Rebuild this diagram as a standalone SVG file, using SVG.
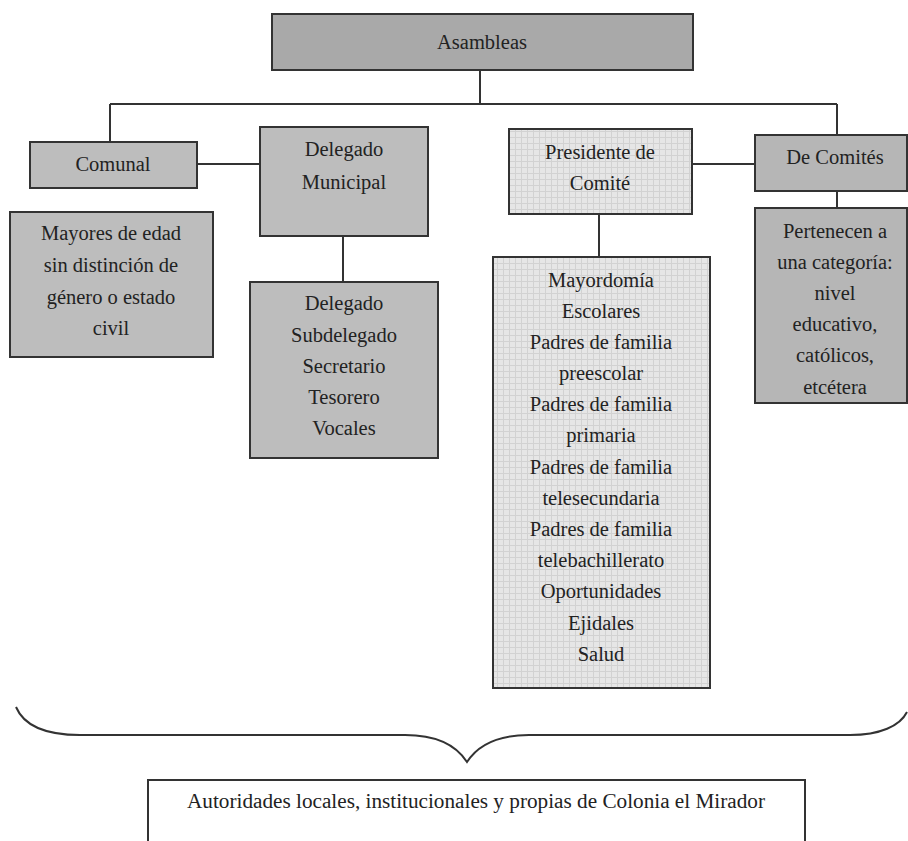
<svg xmlns="http://www.w3.org/2000/svg" width="908" height="841" viewBox="0 0 908 841">
<style>
.box{stroke:#333;stroke-width:2}
.dark{fill:#a9a9a9}
.mid{fill:#bdbdbd}
.mid2{fill:#b6b6b6}
.light{fill:url(#grid)}
.plain{fill:#fff}
.t{font-family:'Liberation Serif',serif;font-size:20.5px;fill:#222;text-anchor:middle}
.conn{stroke:#333;stroke-width:2;fill:none}
</style>
<defs>
<pattern id="grid" width="6" height="6" patternUnits="userSpaceOnUse">
<rect width="6" height="6" fill="#e6e6e6"/>
<path d="M0 5.5H6M5.5 0V6" stroke="#d2d2d2" stroke-width="1"/>
</pattern>
</defs>
<rect width="908" height="841" fill="#fff"/>
<g id="connectors">
<path class="conn" d="M480 70V104M110 104H837M110 104V142M837 104V135"/>
<path class="conn" d="M197 164H260M343 236V282"/>
<path class="conn" d="M692 164H755M599 214V257M837 191V208"/>
<path class="conn" d="M16 707C24 726 45 735 80 735H405C440 735 458 748 467 762C476 748 494 735 529 735H850C880 735 900 726 907 712"/>
</g>
<g id="asambleas">
<rect class="box dark" x="272" y="14" width="421" height="56"/>
<text class="t" x="482" y="49">Asambleas</text>
</g>
<g id="comunal">
<rect class="box mid" x="30" y="142" width="167" height="46"/>
<text class="t" x="113" y="171">Comunal</text>
</g>
<g id="delegado-municipal">
<rect class="box mid" x="260" y="127" width="168" height="109"/>
<text class="t" x="344" y="156">Delegado</text>
<text class="t" x="344" y="189">Municipal</text>
</g>
<g id="mayores">
<rect class="box mid" x="10" y="212" width="203" height="145"/>
<text class="t" x="111" y="240">Mayores de edad</text>
<text class="t" x="111" y="272">sin distinción de</text>
<text class="t" x="111" y="304">género o estado</text>
<text class="t" x="111" y="335">civil</text>
</g>
<g id="delegado-lista">
<rect class="box mid" x="250" y="282" width="188" height="176"/>
<text class="t" x="344" y="310">Delegado</text>
<text class="t" x="344" y="342">Subdelegado</text>
<text class="t" x="344" y="373">Secretario</text>
<text class="t" x="344" y="404">Tesorero</text>
<text class="t" x="344" y="435">Vocales</text>
</g>
<g id="presidente">
<rect class="box light" x="509" y="129" width="183" height="85"/>
<text class="t" x="600" y="159">Presidente de</text>
<text class="t" x="600" y="190">Comité</text>
</g>
<g id="comites-lista">
<rect class="box light" x="493" y="257" width="217" height="431"/>
<text class="t" x="601" y="287">Mayordomía</text>
<text class="t" x="601" y="318">Escolares</text>
<text class="t" x="601" y="349">Padres de familia</text>
<text class="t" x="601" y="380">preescolar</text>
<text class="t" x="601" y="411">Padres de familia</text>
<text class="t" x="601" y="442">primaria</text>
<text class="t" x="601" y="474">Padres de familia</text>
<text class="t" x="601" y="505">telesecundaria</text>
<text class="t" x="601" y="536">Padres de familia</text>
<text class="t" x="601" y="567">telebachillerato</text>
<text class="t" x="601" y="598">Oportunidades</text>
<text class="t" x="601" y="630">Ejidales</text>
<text class="t" x="601" y="661">Salud</text>
</g>
<g id="de-comites">
<rect class="box mid2" x="755" y="135" width="152" height="56"/>
<text class="t" x="835" y="164">De Comités</text>
</g>
<g id="pertenecen">
<rect class="box mid2" x="755" y="208" width="152" height="195"/>
<text class="t" x="835" y="238">Pertenecen a</text>
<text class="t" x="835" y="269">una categoría:</text>
<text class="t" x="835" y="300">nivel</text>
<text class="t" x="835" y="331">educativo,</text>
<text class="t" x="835" y="362">católicos,</text>
<text class="t" x="835" y="394">etcétera</text>
</g>
<g id="autoridades">
<rect class="box plain" x="148" y="780" width="657" height="70"/>
<text class="t" x="476" y="808" textLength="578" lengthAdjust="spacingAndGlyphs">Autoridades locales, institucionales y propias de Colonia el Mirador</text>
</g>
</svg>
